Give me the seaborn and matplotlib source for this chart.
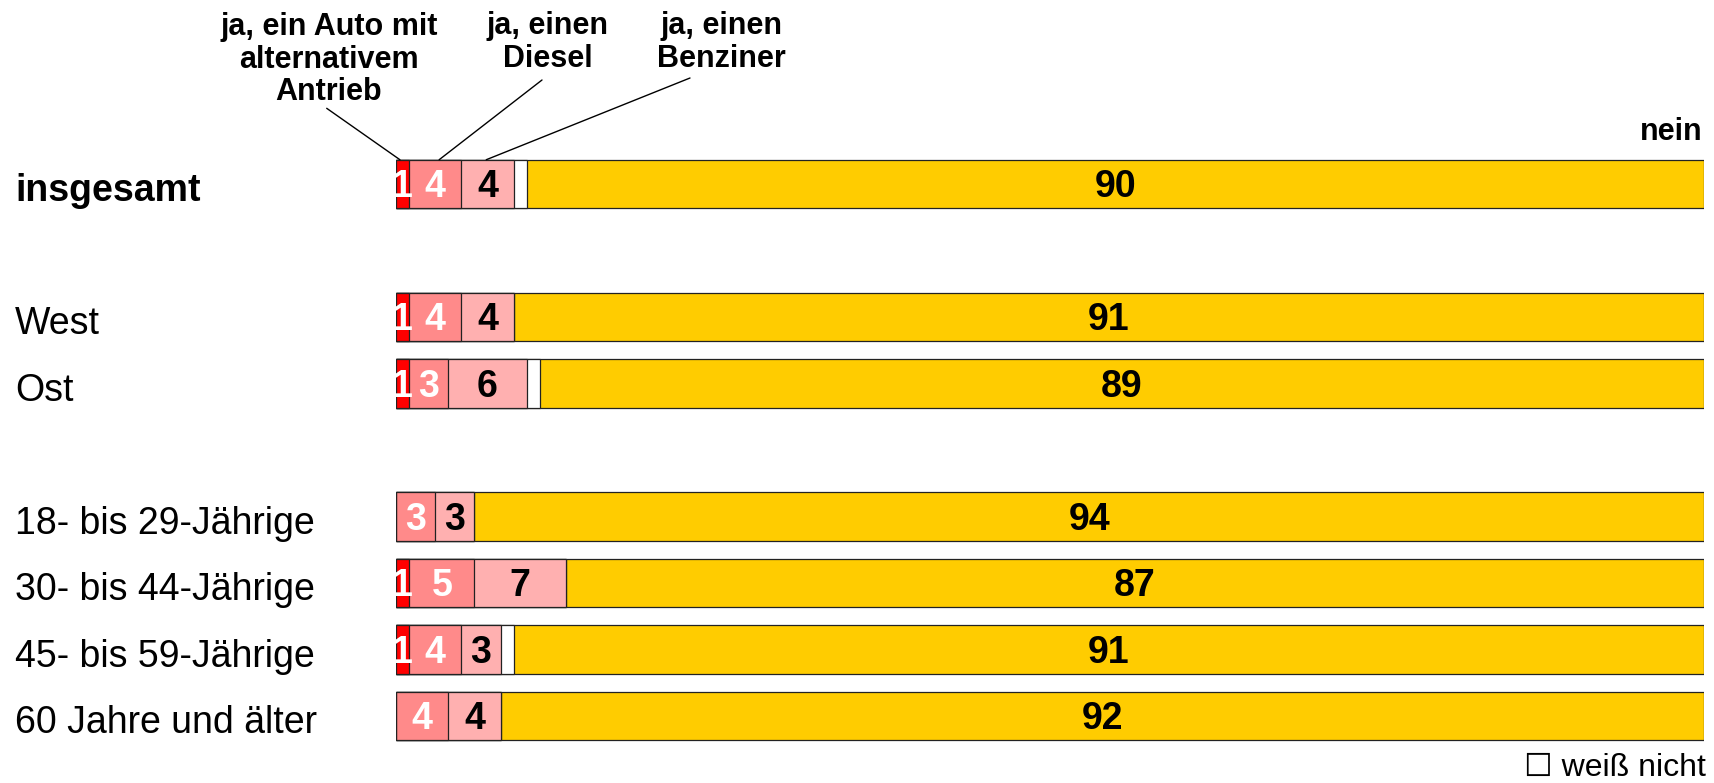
import numpy as np
import pandas as pd
import matplotlib
matplotlib.use("Agg")
import matplotlib.pyplot as plt
import matplotlib.transforms as mtransforms
import seaborn as sns

# ---- data ----
categories = ["insgesamt", "West", "Ost", "18- bis 29-Jährige", "30- bis 44-Jährige",
              "45- bis 59-Jährige", "60 Jahre und älter"]
positions = [0, 2, 3, 5, 6, 7, 8]
alternativ = [1, 1, 1, 0, 1, 1, 0]
diesel = [4, 4, 3, 3, 5, 4, 4]
benziner = [4, 4, 6, 3, 7, 3, 4]
weiss_nicht = [1, 0, 1, 0, 0, 1, 0]
nein = [90, 91, 89, 94, 87, 91, 92]

series_names = ["alternativ", "diesel", "benziner", "weiss_nicht", "nein"]
series_vals = [alternativ, diesel, benziner, weiss_nicht, nein]
colors = ["#FF0000", "#FF8A8A", "#FFB0B0", "#FFFFFF", "#FFCC00"]
label_colors = ["white", "white", "black", None, "black"]

W, H = 1714, 783
sns.set_theme(style="white")
plt.rcParams["font.family"] = ["Liberation Sans", "DejaVu Sans"]
plt.rcParams["text.color"] = "black"

fig = plt.figure(figsize=(W / 100, H / 100), dpi=100)
ax = fig.add_axes([396 / W, 1 - 755.9 / H, 1308 / W, (755.9 - 144.1) / H])

df = pd.DataFrame({"pos": positions})
cum = np.zeros(len(positions))
cum_cols = []
for name, vals in zip(series_names, series_vals):
    cum = cum + np.array(vals, dtype=float)
    df["cum_" + name] = cum
    cum_cols.append("cum_" + name)

# draw stacked bars as layered cumulative bars (largest first)
for col, color in reversed(list(zip(cum_cols, colors))):
    sns.barplot(data=df, x=col, y="pos", orient="h", native_scale=True,
                color=color, saturation=1, edgecolor="#222222", linewidth=0.9,
                width=0.73, errorbar=None, ax=ax)

ax.set_xlim(0, 100)
ax.set_ylim(8.6, -0.6)
ax.axis("off")

# segment value labels
left = np.zeros(len(positions))
for vals, lc in zip(series_vals, label_colors):
    vals = np.array(vals, dtype=float)
    for i, v in enumerate(vals):
        if lc is not None and v > 0:
            ax.text(left[i] + v / 2, positions[i] + 0.2, f"{int(v)}",
                    ha="center", va="baseline", fontsize=27, fontweight="bold",
                    color=lc)
    left = left + vals

# category labels
blend = mtransforms.blended_transform_factory(fig.transFigure, ax.transData)
for i, (cat, p) in enumerate(zip(categories, positions)):
    ax.text(15 / W, p + 0.263, cat, transform=blend,
            ha="left", va="baseline", fontsize=27,
            fontweight="bold" if i == 0 else "normal", color="black")

# header labels
def fy(y):
    return 1 - y / H

fig.text(329 / W, fy(100), "ja, ein Auto mit\nalternativem\nAntrieb", ha="center",
         va="baseline", fontsize=22, fontweight="bold", linespacing=1.1, color="black")
fig.text(548 / W, fy(66.7), "ja, einen\nDiesel", ha="center", va="baseline",
         fontsize=22, fontweight="bold", linespacing=1.1, color="black")
fig.text(721 / W, fy(66.7), "ja, einen\nBenziner", ha="center", va="baseline",
         fontsize=22, fontweight="bold", linespacing=1.1, color="black")
fig.text(1703 / W, fy(140), "nein", ha="right", va="baseline",
         fontsize=22, fontweight="bold", color="black")
fig.text(1706 / W, fy(776), "\u2610 weiß nicht", ha="right", va="baseline",
         fontsize=23, color="black")

# leader lines (from header text to segment of first bar)
bar_top = positions[0] - 0.365
leaders = [(0.3, (326.7, 108.3)), (3.3, (542, 80)), (6.9, (690, 78))]
for xd, (px, py) in leaders:
    ax.annotate("", xy=(xd, bar_top), xycoords="data",
                xytext=(px / W, fy(py)), textcoords="figure fraction",
                arrowprops=dict(arrowstyle="-", color="black", lw=1.0,
                                shrinkA=0, shrinkB=0))

fig.savefig("out.png", dpi=100)
